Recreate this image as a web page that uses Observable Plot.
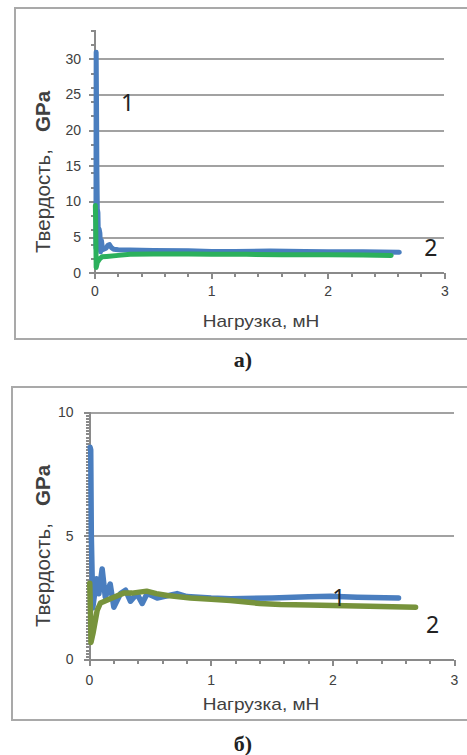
<!DOCTYPE html>
<html>
<head>
<meta charset="utf-8">
<script src="https://cdn.jsdelivr.net/npm/d3@7"></script>
<script src="https://cdn.jsdelivr.net/npm/@observablehq/plot@0.6"></script>
<style>
  html, body { margin: 0; padding: 0; background: #fff; }
  #page { position: relative; width: 467px; height: 755px; overflow: hidden; font-family: "Liberation Sans", Arial, sans-serif; }
  .box { position: absolute; border: 2px solid #a9a9a9; box-sizing: border-box; }
  .abs { position: absolute; white-space: nowrap; }
  .ylab { font-size: 20.5px; color: #404040; transform: translate(-50%, -50%) rotate(-90deg); }
  .xlab { font-size: 17px; color: #404040; transform: translate(-50%, -50%) scaleX(1.12); }
  .cap { font-family: "Liberation Serif", "DejaVu Serif", serif; font-weight: bold; font-size: 22px; color: #222; transform: translate(-50%, -50%); }
</style>
</head>
<body>
<div id="page">
  <div class="box" style="left:14px; top:7px; width:470px; height:333px;"></div>
  <div class="box" style="left:11px; top:386px; width:470px; height:335px;"></div>
  <div id="chartA" class="abs" style="left:0; top:0;"></div>
  <div id="chartB" class="abs" style="left:0; top:380px;"></div>
  <div class="abs ylab" style="left:43px; top:172px;">Твердость,&nbsp;&nbsp; <b>GPa</b></div>
  <div class="abs ylab" style="left:43px; top:546px;">Твердость,&nbsp;&nbsp; <b>GPa</b></div>
  <div class="abs xlab" style="left:261px; top:322px;">Нагрузка, мН</div>
  <div class="abs xlab" style="left:261px; top:705px;">Нагрузка, мН</div>
  <div class="abs cap" style="left:243px; top:360px;">а)</div>
  <div class="abs cap" style="left:243px; top:744px;">б)</div>
</div>
<script>
// ---- Chart а) ----
const xA1 = [0.008, 0.010, 0.013, 0.016, 0.020, 0.025, 0.030, 0.035, 0.042, 0.048, 0.055, 0.065, 0.080, 0.095, 0.110, 0.125, 0.140, 0.160, 0.200, 0.300, 0.500, 0.800, 1.000, 1.200, 1.500, 1.800, 2.000, 2.300, 2.610];
const yA1 = [3.5, 31.0, 24.0, 15.0, 9.0, 8.5, 4.0, 6.2, 5.6, 3.0, 4.6, 3.3, 3.4, 3.5, 3.9, 4.0, 3.6, 3.35, 3.3, 3.25, 3.2, 3.15, 3.05, 3.05, 3.1, 3.05, 3.0, 3.0, 2.95];
const xA2 = [0.003, 0.006, 0.010, 0.020, 0.040, 0.060, 0.100, 0.200, 0.300, 0.500, 0.800, 1.000, 1.300, 1.600, 2.000, 2.300, 2.540];
const yA2 = [9.5, 7.0, 0.8, 1.5, 2.0, 2.3, 2.35, 2.5, 2.65, 2.7, 2.7, 2.65, 2.65, 2.6, 2.6, 2.55, 2.5];
const yMajorA = [0, 5, 10, 15, 20, 25, 30];
const yMinorA = [0, 2, 4, 6, 8, 10, 12, 14, 16, 18, 20, 22, 24, 26, 28, 30, 32, 34];
const xMajor = [0, 1, 2, 3];
const xMinor = [0, 0.2, 0.4, 0.6, 0.8, 1, 1.2, 1.4, 1.6, 1.8, 2, 2.2, 2.4, 2.6, 2.8, 3];
const labelsA = [{x: 0.28, y: 23.8, t: "1"}, {x: 2.88, y: 3.5, t: "2"}];

// ---- Chart б) ----
const xB1 = [0.005, 0.010, 0.015, 0.027, 0.058, 0.077, 0.104, 0.130, 0.170, 0.200, 0.255, 0.296, 0.337, 0.390, 0.433, 0.474, 0.556, 0.720, 0.800, 1.000, 1.160, 1.500, 1.800, 1.980, 2.200, 2.540];
const yB1 = [8.6, 8.5, 5.0, 2.1, 3.28, 2.67, 3.68, 2.53, 3.07, 2.13, 2.68, 2.82, 2.37, 2.68, 2.28, 2.68, 2.5, 2.68, 2.56, 2.5, 2.47, 2.5, 2.55, 2.57, 2.53, 2.5];
const xB2 = [0.002, 0.008, 0.012, 0.030, 0.063, 0.090, 0.200, 0.280, 0.350, 0.470, 0.550, 0.640, 0.830, 1.000, 1.160, 1.400, 1.570, 1.800, 2.000, 2.300, 2.680];
const yB2 = [3.1, 2.0, 0.7, 1.1, 2.0, 2.3, 2.53, 2.7, 2.7, 2.78, 2.68, 2.6, 2.5, 2.45, 2.4, 2.28, 2.24, 2.22, 2.2, 2.17, 2.13];
const yMajorB = [0, 5, 10];
const yMinorB = d3.range(0, 10.0001, 0.125);
const labelsB = [{x: 2.05, y: 2.47, t: "1"}, {x: 2.82, y: 1.39, t: "2"}];

const blue = "#4a7ebf";
const greenA = "#2bb05c";
const greenB = "#77933c";
const axisGray = "#8a8a8a";
const gridGray = "#a2a2a2";

function pts(xs, ys) { return xs.map((x, i) => ({x, y: ys[i]})); }

const W = 467, H = 345;

function makeChart({yDomain, yMajor, yMinor, s1, s2, c2, labels, m, xPad, yPad, lw}) {
  const crisp = {shapeRendering: "crispEdges"};
  // pixel tick lengths expressed in data units of each scale
  const pxX = (W - m[0] - m[1]) / 3;
  const pxY = (H - m[2] - m[3]) / (yDomain[1] - yDomain[0]);
  const tk = {stroke: axisGray, strokeWidth: 2, ...crisp};
  return Plot.plot({
    width: W,
    height: H,
    marginLeft: m[0], marginRight: m[1], marginTop: m[2], marginBottom: m[3],
    x: {domain: [0, 3], axis: null},
    y: {domain: yDomain, axis: null},
    style: {fontFamily: "'Liberation Sans', Arial, sans-serif", fontSize: "14px", color: "#404040", background: "transparent", overflow: "visible"},
    marks: [
      Plot.ruleY(yMajor.filter(v => v > 0), {x1: 0, x2: 3, stroke: gridGray, strokeWidth: 2, ...crisp}),
      Plot.link(yMinor, {x1: 0, x2: -4 / pxX, y1: d => d, y2: d => d, ...tk}),
      Plot.link(yMajor, {x1: 0, x2: -6 / pxX, y1: d => d, y2: d => d, ...tk}),
      Plot.link(xMinor, {x1: d => d, x2: d => d, y1: 0, y2: -4 / pxY, ...tk}),
      Plot.link(xMajor, {x1: d => d, x2: d => d, y1: 0, y2: -6 / pxY, ...tk}),
      Plot.text(yMajor, {x: 0, y: d => d, text: d => String(d), textAnchor: "end", dx: -(6 + yPad), fill: "#404040"}),
      Plot.text(xMajor, {x: d => d, y: 0, text: d => String(d), lineAnchor: "top", dy: 6 + xPad, fill: "#404040"}),
      Plot.ruleX([0], {y1: yDomain[0], y2: yDomain[1], stroke: axisGray, strokeWidth: 2, ...crisp}),
      Plot.ruleY([0], {x1: 0, x2: 3, stroke: axisGray, strokeWidth: 2, ...crisp}),
      Plot.line(s1, {x: "x", y: "y", stroke: blue, strokeWidth: lw, strokeLinejoin: "round", strokeLinecap: "round"}),
      Plot.line(s2, {x: "x", y: "y", stroke: c2, strokeWidth: lw, strokeLinejoin: "round", strokeLinecap: "round"}),
      Plot.text(labels, {x: "x", y: "y", text: "t", fontSize: 23, fill: "#222", fontFamily: "'Noto Sans', 'Open Sans', sans-serif"})
    ]
  });
}

document.getElementById("chartA").appendChild(makeChart({
  yDomain: [0, 34], yMajor: yMajorA, yMinor: yMinorA,
  s1: pts(xA1, yA1), s2: pts(xA2, yA2), c2: greenA, labels: labelsA,
  m: [94.5, 22.7, 30.3, 72.3], xPad: 7, yPad: 8, lw: 5
}));
document.getElementById("chartB").appendChild(makeChart({
  yDomain: [0, 10], yMajor: yMajorB, yMinor: yMinorB,
  s1: pts(xB1, yB1), s2: pts(xB2, yB2), c2: greenB, labels: labelsB,
  m: [89, 13, 32.3, 65.7], xPad: 9, yPad: 10, lw: 5.5
}));
</script>
</body>
</html>
